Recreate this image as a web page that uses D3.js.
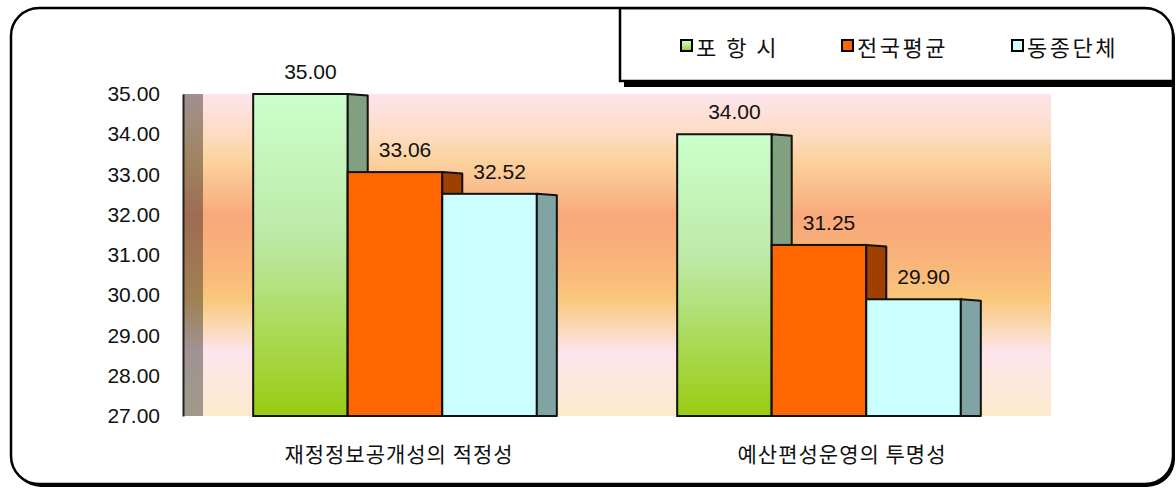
<!DOCTYPE html>
<html>
<head>
<meta charset="utf-8">
<script src="https://d3js.org/d3.v7.min.js"></script>
<style>
  body { margin: 0; background: #fff; }
  text { font-family: "Liberation Sans", Arial, sans-serif; fill: #111; }
  .kr { font-family: "Noto Sans CJK KR", sans-serif; }
</style>
</head>
<body>
<svg id="chart" width="1176" height="488"></svg>
<script>
// data
var categories = ["재정정보공개성의 적정성", "예산편성운영의 투명성"];
var seriesNames = ["포 항 시", "전국평균", "동종단체"];
var pohang = [35.00, 34.00];
var national = [33.06, 31.25];
var peers = [32.52, 29.90];
var yTicks = [27, 28, 29, 30, 31, 32, 33, 34, 35];

var seriesValues = [pohang, national, peers];
var frontFill = ["url(#gGreen)", "#ff6600", "#ccffff"];
var sideFill = ["#80a080", "#a04000", "#80a4a4"];
var keyFill = ["url(#gGreen)", "#ff6600", "#ccffff"];

var svg = d3.select("#chart");
var depth = 20;

var y = d3.scaleLinear().domain([27, 35]).range([416, 94]);
var x0 = d3.scaleBand().domain(categories).range([183, 1031])
  .paddingInner(0.331).paddingOuter(0.1655);
var x1 = d3.scaleBand().domain(d3.range(seriesNames.length)).range([0, x0.bandwidth()]);
var xLabel = d3.scalePoint().domain(categories).range([399, 842]);

var defs = svg.append("defs");
var gg = defs.append("linearGradient").attr("id", "gGreen")
  .attr("x1", 0).attr("y1", 0).attr("x2", 0).attr("y2", 1);
gg.append("stop").attr("offset", "0%").attr("stop-color", "#ccffcc");
gg.append("stop").attr("offset", "45%").attr("stop-color", "#bde9a6");
gg.append("stop").attr("offset", "100%").attr("stop-color", "#99cc11");

var bg = defs.append("linearGradient").attr("id", "gWall")
  .attr("x1", 0).attr("y1", 0).attr("x2", 0).attr("y2", 1);
[["0%", "#fde4ec"], ["12%", "#fddcc4"], ["20%", "#fbd4a0"], ["38%", "#f9a87a"],
 ["52%", "#f9b47a"], ["63%", "#f9c67a"], ["72%", "#fbd8b0"], ["80%", "#fde4ec"],
 ["100%", "#fbeacc"]].forEach(function(s) {
  bg.append("stop").attr("offset", s[0]).attr("stop-color", s[1]);
});
var sw = defs.append("linearGradient").attr("id", "gSide")
  .attr("x1", 0).attr("y1", 0).attr("x2", 0).attr("y2", 1);
[["0%", "#a09090"], ["20%", "#a08462"], ["38%", "#9e6c52"], ["63%", "#a08052"],
 ["80%", "#a09294"], ["100%", "#a09a88"]].forEach(function(s) {
  sw.append("stop").attr("offset", s[0]).attr("stop-color", s[1]);
});

var frameClip = defs.append("clipPath").attr("id", "frameClip");
frameClip.append("rect").attr("x", 11).attr("y", 8).attr("width", 1162)
  .attr("height", 476).attr("rx", 28);

// outer frame (shadow + fill)
svg.append("rect").attr("x", 13).attr("y", 11).attr("width", 1162).attr("height", 476)
  .attr("rx", 28).attr("fill", "#000");
svg.append("rect").attr("x", 11).attr("y", 8).attr("width", 1162).attr("height", 476)
  .attr("rx", 28).attr("fill", "#fff");

// back wall and side wall
svg.append("rect").attr("x", x0.range()[0] + depth).attr("y", y(35))
  .attr("width", x0.range()[1] - x0.range()[0]).attr("height", y(27) - y(35))
  .attr("fill", "url(#gWall)");
svg.append("rect").attr("x", x0.range()[0]).attr("y", y(35))
  .attr("width", depth).attr("height", y(27) - y(35))
  .attr("fill", "url(#gSide)");

// y axis
var yAxis = svg.append("g").attr("transform", "translate(" + x0.range()[0] + ",0)")
  .call(d3.axisLeft(y).tickValues(yTicks).tickFormat(d3.format(".2f"))
    .tickSize(0).tickPadding(23));
yAxis.select(".domain").attr("stroke", "#222").attr("stroke-width", 2);
yAxis.selectAll("text").attr("font-size", 21).attr("fill", "#111")
  .attr("font-family", "Liberation Sans, Arial, sans-serif");

// bars
categories.forEach(function(cat, ci) {
  var g = svg.append("g").attr("transform", "translate(" + x0(cat) + ",0)");
  seriesNames.forEach(function(s, si) {
    var v = seriesValues[si][ci];
    var bx = x1(si), bw = x1.bandwidth();
    var top = y(v), bot = y(27);
    g.append("rect").attr("x", bx).attr("y", top).attr("width", bw)
      .attr("height", bot - top).attr("fill", frontFill[si])
      .attr("stroke", "#111").attr("stroke-width", 2);
    g.append("path")
      .attr("d", "M" + (bx + bw) + "," + top + "L" + (bx + bw + depth) + "," + (top + 1.5) +
        "L" + (bx + bw + depth) + "," + bot + "L" + (bx + bw) + "," + bot + "Z")
      .attr("fill", sideFill[si]).attr("stroke", "#111").attr("stroke-width", 2)
      .attr("stroke-linejoin", "round");
    g.append("text").attr("x", bx + (bw + depth) / 2).attr("y", top - 15)
      .attr("text-anchor", "middle").attr("font-size", 21)
      .text(d3.format(".2f")(v));
  });
});

// category labels
svg.selectAll(".cat").data(categories).enter().append("text")
  .attr("class", "kr").attr("x", function(d) { return xLabel(d); }).attr("y", 462)
  .attr("text-anchor", "middle").attr("font-size", 21).attr("letter-spacing", 1)
  .attr("fill", "#222").text(function(d) { return d; });

// legend
var lg = svg.append("g").attr("clip-path", "url(#frameClip)");
lg.append("rect").attr("x", 624).attr("y", 13).attr("width", 560).attr("height", 74)
  .attr("fill", "#000");
lg.append("rect").attr("x", 620).attr("y", 8).attr("width", 560).attr("height", 73)
  .attr("fill", "#fff").attr("stroke", "#000").attr("stroke-width", 2.5);
var legendX = [681, 842, 1012];
seriesNames.forEach(function(s, si) {
  lg.append("rect").attr("x", legendX[si]).attr("y", 40).attr("width", 11).attr("height", 11)
    .attr("fill", keyFill[si]).attr("stroke", "#000").attr("stroke-width", 2);
  lg.append("text").attr("class", "kr").attr("x", legendX[si] + 15).attr("y", 56)
    .attr("font-size", 22).attr("letter-spacing", 2.5).attr("fill", "#222").text(s);
});

// outer frame border on top
svg.append("rect").attr("x", 11).attr("y", 8).attr("width", 1162).attr("height", 476)
  .attr("rx", 28).attr("fill", "none").attr("stroke", "#000").attr("stroke-width", 2.5);
</script>
</body>
</html>
